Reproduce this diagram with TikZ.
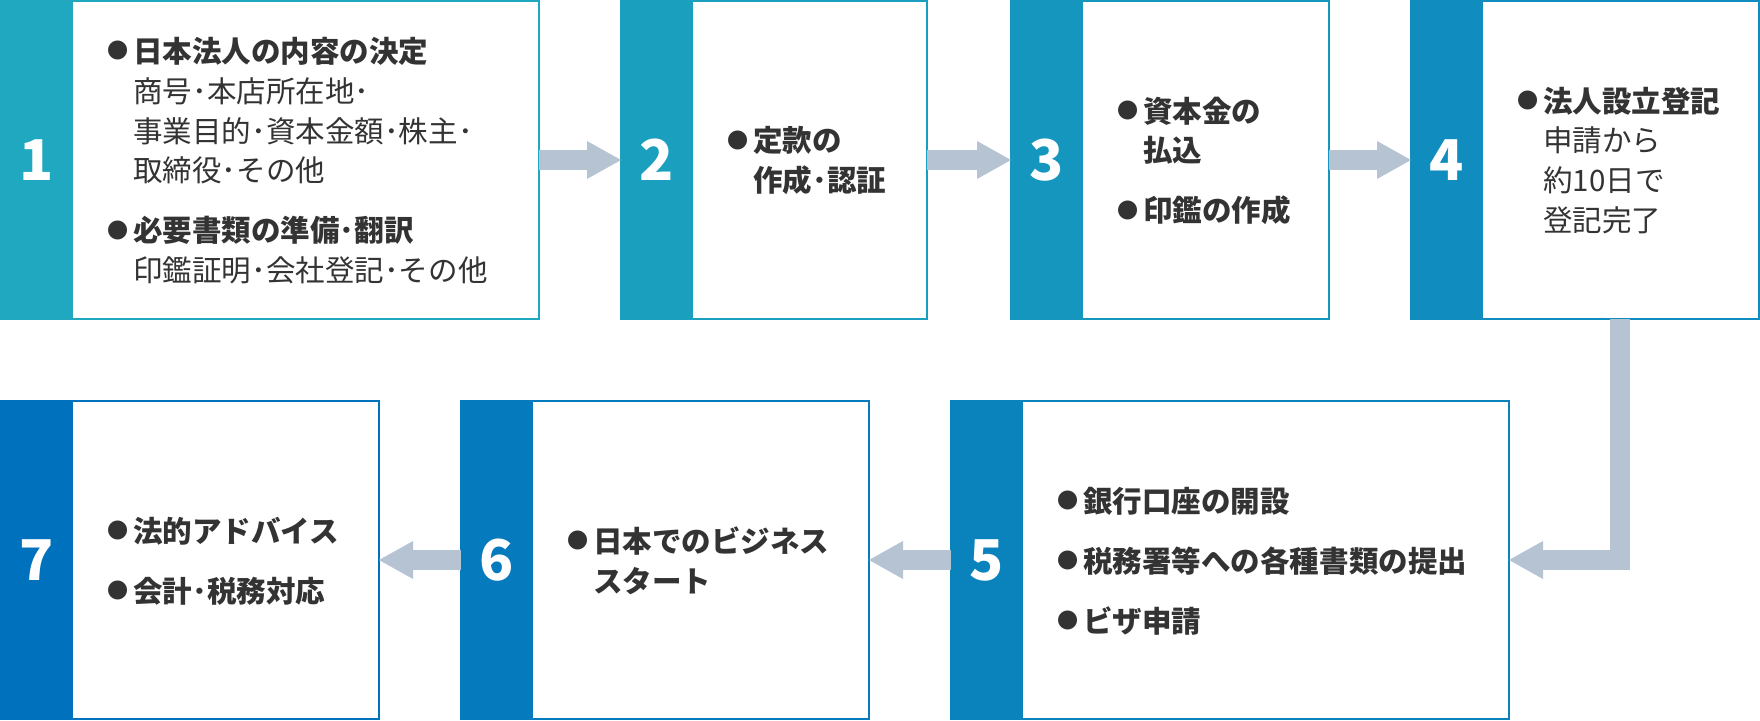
\documentclass[tikz,border=0pt]{standalone}
\usepackage{fontspec}
\setmainfont{Noto Sans CJK JP}
\usetikzlibrary{arrows.meta}
\definecolor{c1}{HTML}{1FA8C0}
\definecolor{c2}{HTML}{1A9FBF}
\definecolor{c3}{HTML}{1596BE}
\definecolor{c4}{HTML}{108CBE}
\definecolor{c5}{HTML}{0A83BD}
\definecolor{c6}{HTML}{057ABD}
\definecolor{c7}{HTML}{0071BC}
\definecolor{txtgray}{HTML}{333333}
\definecolor{flowgray}{HTML}{B5C3D3}
\newcommand{\bul}{\raisebox{2.3pt}{\fontsize{15}{15}\selectfont ●}}
\tikzset{
  box/.style={draw, line width=1.5pt, fill=white, minimum height=7.95cm, inner sep=0pt, outer sep=0pt},
  strip/.style={anchor=west, minimum width=1.8cm, minimum height=8cm, inner sep=0pt, outer sep=0pt, text=white, font=\bfseries\fontsize{40}{40}\selectfont},
  desc/.style={anchor=west, inner sep=0pt, text=txtgray, font=\fontsize{21}{28.45}\selectfont},
  flow/.style={draw=flowgray, line width=0.5cm, line join=miter, -{Triangle[length=0.85cm, width=0.95cm, line width=0pt]}}
}

\begin{document}
\begin{tikzpicture}

		\useasboundingbox (0,0) rectangle (44,18);

		% Top row
		\node[box, draw=c1, minimum width=13.45cm] (box1) at (6.75, 14) {};
		\node[box, draw=c2, minimum width=7.65cm] (box2) at (19.35, 14) {};
		\node[box, draw=c3, minimum width=7.95cm] (box3) at (29.25, 14) {};
		\node[box, draw=c4, minimum width=8.7cm] (box4) at (39.625, 14) {};

		% Bottom row
		\node[box, draw=c5, minimum width=13.95cm] (box5) at (30.75, 4) {};
		\node[box, draw=c6, minimum width=10.2cm] (box6) at (16.625, 4) {};
		\node[box, draw=c7, minimum width=9.45cm] (box7) at (4.75, 4) {};

		% Numbers
		\node[strip, fill=c1] (num1) at (box1.west) {1};
		\node[strip, fill=c2] (num2) at (box2.west) {2};
		\node[strip, fill=c3] (num3) at (box3.west) {3};
		\node[strip, fill=c4] (num4) at (box4.west) {4};
		\node[strip, fill=c5] (num5) at (box5.west) {5};
		\node[strip, fill=c6] (num6) at (box6.west) {6};
		\node[strip, fill=c7] (num7) at (box7.west) {7};

		% Texts
		\node[desc] (txt1) at ([xshift=0.85cm, yshift=-0.1cm]num1.east) {\begin{tabular}{@{}p{0.65cm}@{}l@{}}
			\bul & \textbf{日本法人の内容の決定}\\
			& 商号･本店所在地･\\
			& 事業目的･資本金額･株主･\\
			& 取締役･その他\\[0.5cm]
			\bul & \textbf{必要書類の準備･翻訳}\\
			& 印鑑証明･会社登記･その他
		\end{tabular}};
		\node[desc] (txt2) at ([xshift=0.85cm, yshift=-0.1cm]num2.east) {\begin{tabular}{@{}p{0.65cm}@{}l@{}}
			\bul & \textbf{定款の}\\
			& \textbf{作成･認証}
		\end{tabular}};
		\node[desc] (txt3) at ([xshift=0.85cm, yshift=-0.1cm]num3.east) {\begin{tabular}{@{}p{0.65cm}@{}l@{}}
			\bul & \textbf{資本金の}\\
			& \textbf{払込}\\[0.5cm]
			\bul & \textbf{印鑑の作成}
		\end{tabular}};
		\node[desc] (txt4) at ([xshift=0.85cm, yshift=-0.1cm]num4.east) {\begin{tabular}{@{}p{0.65cm}@{}l@{}}
			\bul & \textbf{法人設立登記}\\
			& 申請から\\
			& 約10日で\\
			& 登記完了
		\end{tabular}};
		\node[desc] (txt5) at ([xshift=0.85cm, yshift=-0.1cm]num5.east) {\begin{tabular}{@{}p{0.65cm}@{}l@{}}
			\bul & \textbf{銀行口座の開設}\\[0.5cm]
			\bul & \textbf{税務署等への各種書類の提出}\\[0.5cm]
			\bul & \textbf{ビザ申請}
		\end{tabular}};
		\node[desc] (txt6) at ([xshift=0.85cm, yshift=-0.1cm]num6.east) {\begin{tabular}{@{}p{0.65cm}@{}l@{}}
			\bul & \textbf{日本でのビジネス}\\
			& \textbf{スタート}
		\end{tabular}};
		\node[desc] (txt7) at ([xshift=0.85cm, yshift=-0.1cm]num7.east) {\begin{tabular}{@{}p{0.65cm}@{}l@{}}
			\bul & \textbf{法的アドバイス}\\[0.5cm]
			\bul & \textbf{会計･税務対応}
		\end{tabular}};

		% Arrows
		\draw[flow] (box1) -- (box2);
		\draw[flow] (box2) -- (box3);
		\draw[flow] (box3) -- (box4);
		\draw[flow] ([xshift=0.875cm]box4.south) |- (box5.east);
		\draw[flow] (box5) -- (box6);
		\draw[flow] (box6) -- (box7);

	\end{tikzpicture}
\end{document}
